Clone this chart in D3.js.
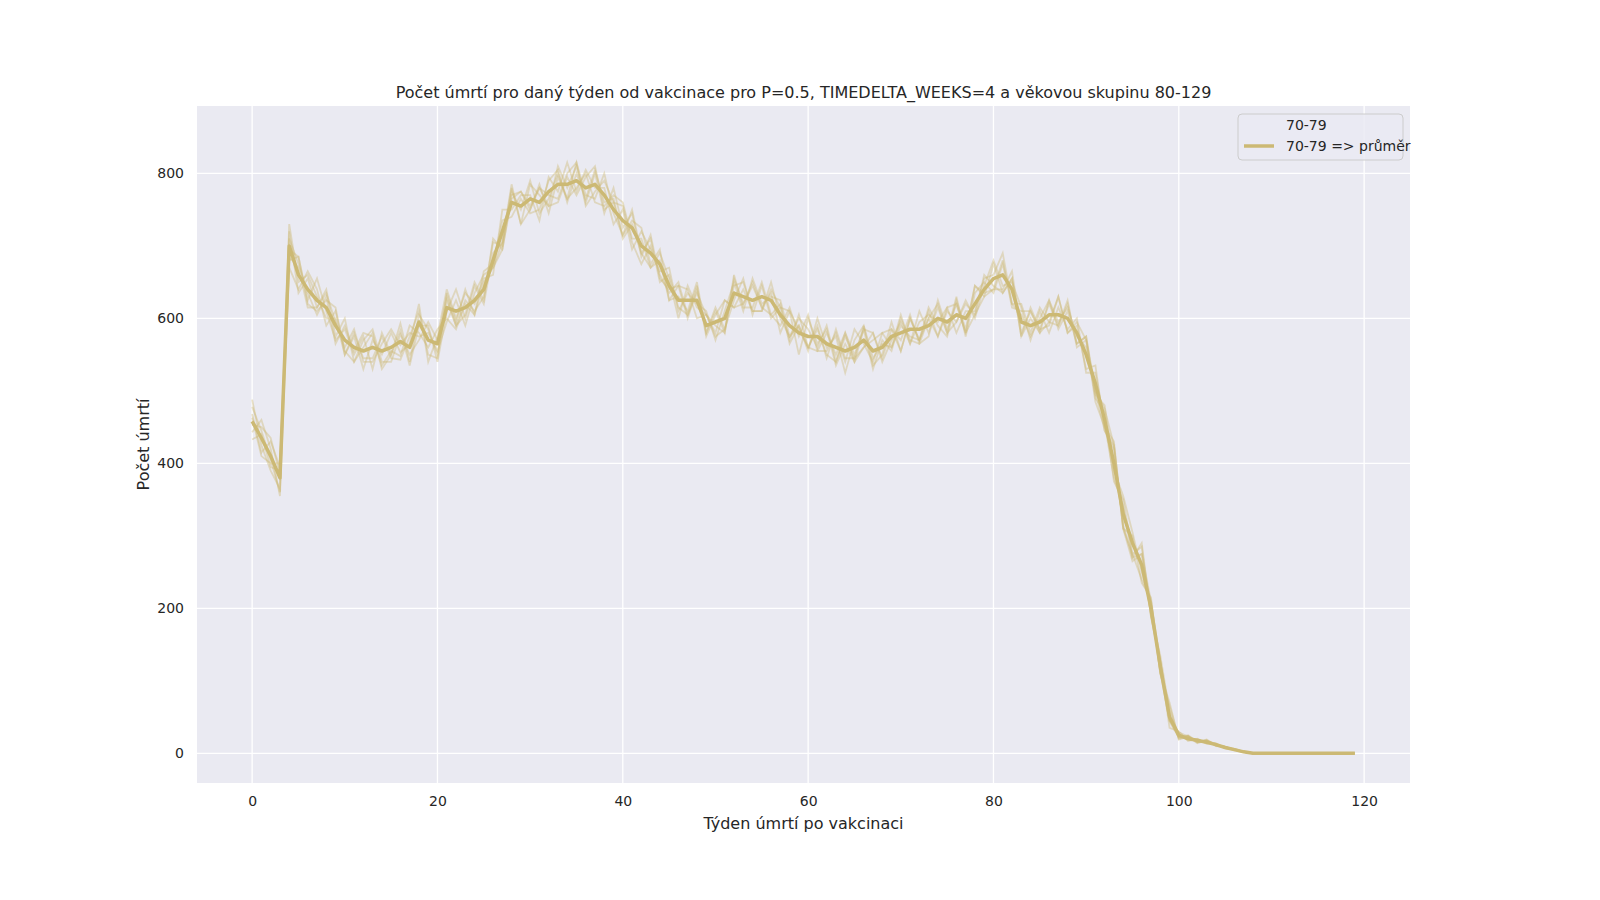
<!DOCTYPE html>
<html><head><meta charset="utf-8">
<script src="https://cdn.jsdelivr.net/npm/d3@7"></script>
<style>body{margin:0;background:#fff;font-family:"DejaVu Sans",sans-serif}</style>
</head><body><svg id="c" width="1600" height="900"></svg>
<script>
// mean weekly deaths (weeks 0..119)
const meanValues = [458,435,410,380,700,660,640,625,615,590, 570,560,555,560,555,560,568,560,595,570,
  565,615,610,615,625,640,680,720,760,755, 765,760,775,785,785,790,780,785,770,750,
  735,725,700,690,675,645,625,625,625,590, 595,600,635,630,625,630,625,605,590,580,
  575,575,565,560,555,560,570,555,560,575, 580,585,585,590,600,595,605,600,620,640,
  655,660,640,595,590,595,605,605,600,580, 550,510,460,400,330,290,260,200,120,50,
  25,20,18,15,12,8,5,2,0,0, 0,0,0,0,0,0,0,0,0,0];
// individual runs, given as offsets from the mean
const runOffsets = [
 [20,10,-5,-20,30,-10,20,5,-15,10,-20,15,-25,10,-5,20,-15,5,25,-30,10,25,-10,20,-5,15,-20,30,-10,15,5,-25,20,-10,30,-15,25,-5,10,-20,15,-30,20,5,-10,25,-15,10,-5,20,-25,10,15,-20,30,-10,5,20,-15,10,-20,25,-5,15,-30,10,20,-10,5,-15,25,-20,10,15,-5,20,-25,10,-10,15,5,30,-20,10,-15,5,20,-10,15,-5,10,-15,20,-10,25,15,-10,5,-8,-5,4,3,-2,2,1,-1,1,0,0,0,0,0,0,0,0,0,0,0,0,0],
 [-15,25,10,-25,-20,25,-15,30,-5,-20,15,-10,20,-30,25,-10,15,-25,-5,20,-25,-5,30,-15,20,-20,10,-15,25,-25,20,10,-20,25,-5,20,-20,15,-25,30,-10,20,-15,25,-20,-5,20,-25,15,-10,20,-15,-10,25,-20,15,-25,10,20,-30,25,-10,20,-25,10,-20,15,25,-15,10,-10,20,-20,-15,25,-10,15,-20,25,-10,-15,-20,25,-15,20,-10,-15,25,-20,10,-20,25,-15,20,-20,-25,15,10,6,-4,-3,5,-2,3,-1,1,0,0,0,0,0,0,0,0,0,0,0,0],
 [10,-20,20,15,-15,10,-25,-10,25,-15,30,-20,5,20,-25,-10,25,-20,10,15,-15,10,-20,-10,25,-15,30,-25,5,20,-15,25,-30,10,-20,25,-10,-20,30,-5,-20,10,25,-15,20,-20,5,-15,25,-10,15,-20,25,-15,-10,20,-20,-15,25,-5,30,-20,-10,20,-15,25,-5,-15,20,10,-25,15,-15,25,-10,-20,20,-15,25,-5,-15,20,-25,15,20,-15,-10,25,-20,15,20,-25,-10,30,-20,-15,25,-12,8,-6,-3,4,-2,2,1,-1,0,0,0,0,0,0,0,0,0,0,0,0],
 [-25,5,-15,10,20,-25,15,-10,20,5,-10,25,-15,-20,10,25,-5,20,-20,10,-10,-20,15,-25,10,20,-10,-15,20,-25,-15,20,-5,-20,15,25,-25,-10,20,10,-20,25,-10,-20,15,10,-25,20,-10,15,-15,25,-20,10,-15,-20,25,-5,-15,20,10,-15,25,-20,20,-15,-10,25,-20,-5,15,-20,25,-10,15,-15,-10,25,-20,5,25,-15,10,20,-20,15,-25,10,-15,20,-25,15,-5,-20,10,-20,30,-10,15,8,-5,4,-3,2,-1,1,0,0,0,0,0,0,0,0,0,0,0,0],
 [30,-10,-20,-15,10,15,-5,-20,15,-25,20,-5,25,15,-20,-5,-20,30,-15,-10,20,-15,-25,5,-20,25,-5,15,-20,10,-20,-10,15,20,-25,10,-15,20,-10,15,-25,5,-10,20,-25,15,-10,-20,20,-15,10,25,-20,-10,20,-15,10,-25,20,5,-15,-20,15,-10,25,-20,-10,15,20,-15,10,-10,-15,20,-25,15,-10,20,-15,-10,20,-25,15,-20,25,-10,15,-15,20,-15,25,-10,-15,25,-20,10,-25,15,-10,20,-6,3,-4,3,-2,1,-1,0,0,0,0,0,0,0,0,0,0,0,0,0],
 [-5,15,25,5,-30,-20,25,15,-25,20,-15,-20,15,25,-15,-20,10,-10,-25,25,5,15,-20,10,-15,-10,25,-20,15,-5,25,-15,-10,15,-20,-10,20,-25,-15,20,25,-15,10,-20,5,-20,20,15,-25,15,-5,-20,20,-10,25,-15,-20,15,-25,10,-15,15,-20,25,-10,-15,20,-20,-10,20,-25,15,-15,10,-25,20,15,-20,-15,20,-10,-25,15,-20,10,-15,20,-20,10,-15,25,-20,10,-25,20,-15,-20,10,-10,15,-4,3,-3,4,-1,1,0,0,0,0,0,0,0,0,0,0,0,0,0,0],
 [5,-25,-10,20,-5,25,-20,-15,10,25,-20,20,-10,-15,20,-15,-25,15,15,-20,-20,20,-15,25,-20,10,-10,-25,10,20,-10,20,-20,-25,10,-20,15,25,-20,10,20,-20,-25,10,-15,-10,25,-20,10,15,-20,-15,10,20,-15,-20,15,10,-20,25,-15,10,-15,-20,25,-10,15,-25,10,-20,20,-15,-20,10,20,-15,25,-25,15,10,-20,15,-20,25,-10,20,-10,-15,25,-20,20,-10,15,25,-15,-20,15,-10,5,-15,5,-3,2,-2,2,-1,1,0,0,0,0,0,0,0,0,0,0,0,0,0]
];
const weeks = d3.range(meanValues.length);
const xTicks = [0,20,40,60,80,100,120];
const yTicks = [0,200,400,600,800];
const legendLabels = ["70-79", "70-79 => průměr"];
const lineColor = "#ccb974";

const svg = d3.select("#c");
const L = 197, R = 1410, T = 106, B = 783;
const x = d3.scaleLinear().domain([-5.95, 124.95]).range([L, R]);
const y = d3.scaleLinear().domain([-41, 893]).range([B, T]);

svg.append("rect").attr("x", L).attr("y", T).attr("width", R - L).attr("height", B - T).attr("fill", "#eaeaf2");
const grid = svg.append("g").attr("stroke", "#fff").attr("stroke-width", 1.3);
xTicks.forEach(t => grid.append("line").attr("x1", x(t)).attr("x2", x(t)).attr("y1", T).attr("y2", B));
yTicks.forEach(t => grid.append("line").attr("x1", L).attr("x2", R).attr("y1", y(t)).attr("y2", y(t)));

const xAxis = svg.append("g").attr("transform", `translate(0,${B})`)
  .call(d3.axisBottom(x).tickValues(xTicks).tickSize(0).tickPadding(13));
const yAxis = svg.append("g").attr("transform", `translate(${L},0)`)
  .call(d3.axisLeft(y).tickValues(yTicks).tickSize(0).tickPadding(13));
[xAxis, yAxis].forEach(a => {
  a.select(".domain").remove();
  a.selectAll("text").attr("font-size", 14).attr("fill", "#262626").attr("font-family", "DejaVu Sans");
});

const line = d3.line().x((d, i) => x(i)).y(d => y(d));
const plot = svg.append("g");
runOffsets.forEach(off => {
  plot.append("path").datum(meanValues.map((v, i) => Math.max(0, v + off[i])))
    .attr("d", line).attr("fill", "none").attr("stroke", lineColor)
    .attr("stroke-width", 1.8).attr("stroke-opacity", 0.4);
});
plot.append("path").datum(meanValues).attr("d", line).attr("fill", "none")
  .attr("stroke", lineColor).attr("stroke-width", 3.5).attr("stroke-linejoin", "round");

svg.append("text").attr("x", (L + R) / 2).attr("y", 98).attr("text-anchor", "middle")
  .attr("font-size", 16).attr("fill", "#262626")
  .text("Počet úmrtí pro daný týden od vakcinace pro P=0.5, TIMEDELTA_WEEKS=4 a věkovou skupinu 80-129");
svg.append("text").attr("x", (L + R) / 2).attr("y", 829).attr("text-anchor", "middle")
  .attr("font-size", 16).attr("fill", "#262626").text("Týden úmrtí po vakcinaci");
svg.append("text").attr("transform", `translate(149,${(T + B) / 2}) rotate(-90)`).attr("text-anchor", "middle")
  .attr("font-size", 16).attr("fill", "#262626").text("Počet úmrtí");

const lg = svg.append("g").attr("transform", "translate(1238,114)");
lg.append("rect").attr("width", 165).attr("height", 46).attr("rx", 4)
  .attr("fill", "#eaeaf2").attr("fill-opacity", 0.8).attr("stroke", "#cccccc");
lg.append("text").attr("x", 48).attr("y", 16).attr("font-size", 14).attr("fill", "#262626").text(legendLabels[0]);
lg.append("line").attr("x1", 6).attr("x2", 36).attr("y1", 32).attr("y2", 32)
  .attr("stroke", lineColor).attr("stroke-width", 3.5);
lg.append("text").attr("x", 48).attr("y", 37).attr("font-size", 14).attr("fill", "#262626").text(legendLabels[1]);
</script></body></html>
